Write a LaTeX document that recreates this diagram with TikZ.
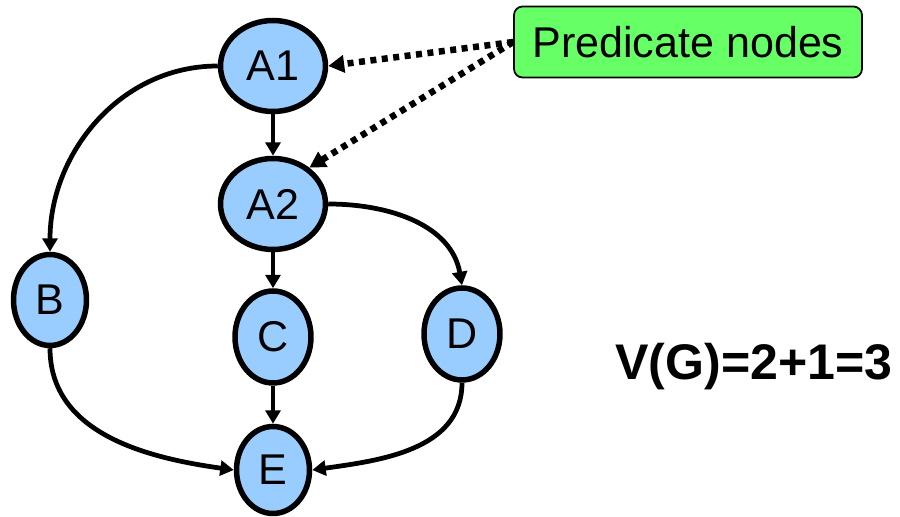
\documentclass[tikz,border=0pt]{standalone}
\usepackage{fontspec}
\setmainfont{Liberation Sans}
\usetikzlibrary{shapes.geometric,arrows.meta}
\definecolor{nodeblue}{HTML}{99CCFF}
\definecolor{notegreen}{HTML}{66FF66}
\begin{document}
\begin{tikzpicture} [
  x=0.02cm,
  y=0.02cm,
  block/.style={ellipse,draw,line width=0.11cm,fill=nodeblue,inner sep=0pt,
    font=\fontsize{24.5}{28}\selectfont},
  flow/.style={-{Triangle[length=0.27cm,width=0.3cm]},line width=0.095cm},
  hint/.style={-{Triangle[length=0.32cm,width=0.34cm]},line width=0.13cm,
    dash pattern=on 0.12cm off 0.11cm},
  note/.style={rectangle,rounded corners=0.17cm,draw,line width=0.035cm,
    fill=notegreen,minimum width=6.96cm,minimum height=1.42cm,
    font=\fontsize{24.5}{28}\selectfont}]

\useasboundingbox (0,0) rectangle (900,517);

\node[block,minimum width=2.1cm,minimum height=1.82cm] (A1) at (273,451) {A1};
\node[block,minimum width=2.1cm,minimum height=1.82cm] (A2) at (273,313) {A2};
\node[block,minimum width=1.46cm,minimum height=1.82cm] (B) at (50,217) {B};
\node[block,minimum width=1.52cm,minimum height=1.84cm] (C) at (273,180) {C};
\node[block,minimum width=1.52cm,minimum height=1.84cm] (D) at (462,183) {D};
\node[block,minimum width=1.46cm,minimum height=1.74cm] (E) at (273,47) {E};

\node[note] (pred) at (688,475) {Predicate nodes};
\node[inner sep=0pt,anchor=base west,font=\fontsize{28.5}{32}\selectfont\bfseries]
  (vg) at (615,137) {V(G)=2+1=3};

\draw[flow] (A1) -- (A2);
\draw[flow] (A2) -- (C);
\draw[flow] (C) -- (E);
\draw[flow] (A1.west) to[out=180,in=90] (B.north);
\draw[flow] (A2.east) to[out=0,in=100] (D.north);
\draw[flow] (B.south) to[out=-90,in=172] (E.west);
\draw[flow] (D.south) to[out=-90,in=8] (E.east);

\draw[hint] (pred.west) -- (A1.east);
\draw[hint] (pred.west) -- (A2.45);
\end{tikzpicture}
\end{document}
